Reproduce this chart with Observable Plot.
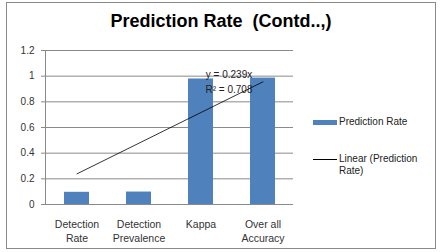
<!DOCTYPE html>
<html>
<head>
<meta charset="utf-8">
<script src="https://cdn.jsdelivr.net/npm/d3@7"></script>
<script src="https://cdn.jsdelivr.net/npm/@observablehq/plot@0.6"></script>
<style>
  html, body { margin: 0; padding: 0; background: #fff; }
  #chart { position: relative; width: 443px; height: 252px; font-family: "Liberation Sans", Arial, sans-serif; }
  #border { position: absolute; left: 6px; top: 2px; width: 428px; height: 245px; border: 1px solid #8a8a8a; }
  #title { position: absolute; left: 6px; width: 430px; top: 11px; text-align: center; font-weight: bold; font-size: 18px; color: #000; white-space: pre; }
  #plot { position: absolute; left: 0; top: 0; }
  .legend { position: absolute; left: 313px; font-size: 10px; color: #222; }
  .legend .row { position: absolute; left: 0; display: flex; align-items: flex-start; white-space: nowrap; }
  .legend .sw { width: 24px; margin-right: 2px; flex: none; }
  .legend .txt { line-height: 12px; }
</style>
</head>
<body>
<div id="chart">
  <div id="border"></div>
  <div id="title"></div>
  <div id="plot"></div>
  <div class="legend" id="legend"></div>
</div>
<script>
// Chart text
const titleText = "Prediction Rate  (Contd..,)";
const seriesName = "Prediction Rate";
const trendName = "Linear (Prediction\nRate)";

// Categories (line breaks as shown under the axis)
const categories = ["Detection\nRate", "Detection\nPrevalence", "Kappa", "Over all\nAccuracy"];
// Prediction rate per category
const values = [0.095, 0.097, 0.978, 0.985];

// Linear trendline through the origin, as fitted in the workbook
const trendSlope = 0.239;
const trendR2 = 0.708;
const trendLabel = ["y = 0.239x", "R\u00b2 = 0.708"];

// Value axis ticks
const yTicks = [0, 0.2, 0.4, 0.6, 0.8, 1, 1.2];
const yTickLabels = ["0", "0.2", "0.4", "0.6", "0.8", "1", "1.2"];

const barColor = "#4f81bd";
const gridColor = "#8a8a8a";
const textColor = "#333";

const bars = categories.map((c, i) => ({category: c, value: values[i]}));
const trend = categories.map((c, i) => ({category: c, value: trendSlope * (i + 1)}));

document.getElementById("title").textContent = titleText;

const plot = Plot.plot({
  width: 443,
  height: 252,
  marginLeft: 45,
  marginRight: 150,
  marginTop: 50,
  marginBottom: 48,
  style: {background: "transparent", fontFamily: "Liberation Sans, Arial, sans-serif", color: textColor},
  x: {domain: categories, paddingInner: 0.6, paddingOuter: 0.3},
  y: {domain: [0, 1.2]},
  marks: [
    Plot.gridY(yTicks, {stroke: gridColor, strokeOpacity: 1, strokeWidth: 1}),
    Plot.barY(bars, {x: "category", y: "value", fill: barColor}),
    Plot.frame({anchor: "left", stroke: gridColor, strokeWidth: 1}),
    Plot.ruleY([0], {stroke: gridColor, strokeWidth: 1}),
    Plot.axisY({
      ticks: yTicks,
      tickFormat: (d) => yTickLabels[yTicks.indexOf(d)],
      tickSize: 4,
      tickPadding: 7,
      stroke: gridColor,
      fontSize: 10,
      fill: textColor,
      label: null
    }),
    Plot.axisX({
      tickSize: 0,
      tickPadding: 14,
      fontSize: 10.5,
      lineHeight: 1.3,
      fill: textColor,
      label: null
    }),
    Plot.line(trend, {x: "category", y: "value", stroke: "#000", strokeWidth: 0.8}),
    Plot.text([trendLabel.join("\n")], {
      x: () => categories[2],
      y: () => 1,
      dx: 28,
      dy: -8,
      lineAnchor: "top",
      lineHeight: 1.45,
      fontSize: 10,
      fill: "#222",
      text: (d) => d
    })
  ]
});
document.getElementById("plot").appendChild(plot);

// Legend
const legend = document.getElementById("legend");
legend.innerHTML = `
  <div class="row" style="top:116px"><div class="sw" style="height:5px;background:${barColor};margin-top:4px"></div><div class="txt"></div></div>
  <div class="row" style="top:153px"><div class="sw" style="height:1px;background:#000;margin-top:6px"></div><div class="txt" style="white-space:pre"></div></div>`;
const txts = legend.querySelectorAll(".txt");
txts[0].textContent = seriesName;
txts[1].textContent = trendName;
</script>
</body>
</html>
